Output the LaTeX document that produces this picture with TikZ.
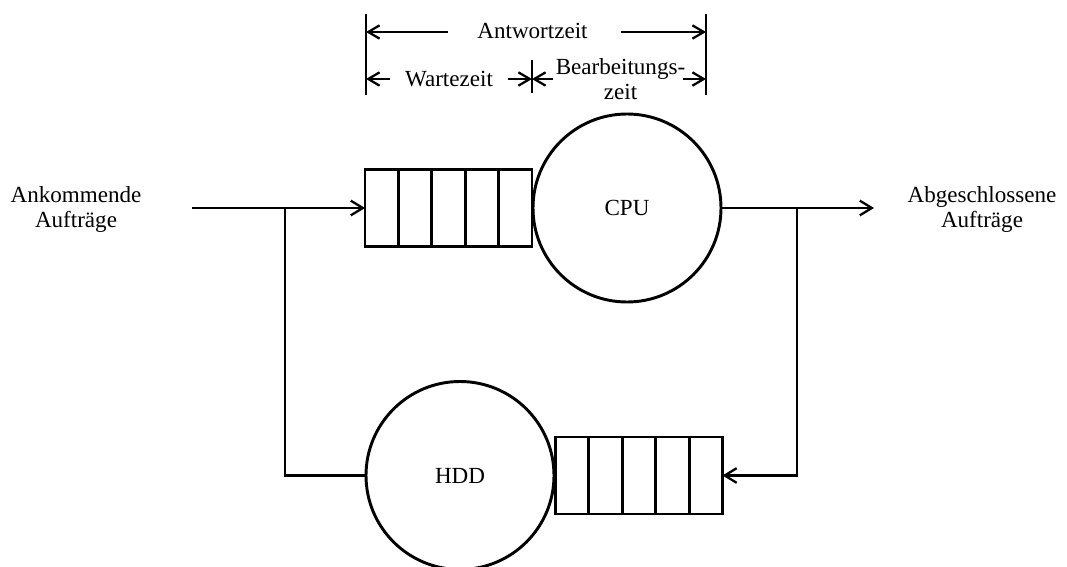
\documentclass[tikz,border=0pt]{standalone}
\usepackage{fontspec}
\setmainfont{Liberation Serif}
\usetikzlibrary{arrows.meta,calc}
\begin{document}
\begin{tikzpicture}[x=0.75pt,y=-0.75pt,
  txt/.style={font=\fontsize{17.3}{18.6}\selectfont},
  conn/.style={line width=1.7pt},
  arr/.style={conn,-{Straight Barb[length=9pt,width=11pt,line width=1.7pt]}},
  dimarr/.style={line width=1.7pt,-{Straight Barb[length=8.5pt,width=10pt,line width=1.7pt]}},
  bar/.style={line width=2pt},
  cell/.style={line width=2.2pt},
  queuebox/.style={draw,line width=2.2pt,minimum width=125.25pt,minimum height=57.75pt,inner sep=0pt,outer sep=0pt},
  server/.style={draw,circle,line width=2.2pt,minimum size=141pt,inner sep=0pt,outer sep=0pt,txt},
  lbl/.style={inner sep=0pt,align=center,txt}]
\useasboundingbox[fill=white] (0,0) rectangle (1067,567);

% --- queues and servers
\node[queuebox] (q1) at (448.5,208) {};
\foreach \i in {1,...,4}
  \draw[cell] ($(q1.north west)!\i/5!(q1.north east)$) -- ($(q1.south west)!\i/5!(q1.south east)$);
\node[server] (cpu) at (627,208) {CPU};

\node[queuebox] (q2) at (639,475.5) {};
\foreach \i in {1,...,4}
  \draw[cell] ($(q2.north west)!\i/5!(q2.north east)$) -- ($(q2.south west)!\i/5!(q2.south east)$);
\node[server] (hdd) at (460,475.5) {HDD};

% --- side labels
\node[lbl] (in) at (76,209.5) {Ankommende\\Aufträge};
\node[lbl] (out) at (982,209.5) {Abgeschlossene\\Aufträge};

% --- connectors
\coordinate (instart) at (192,208);
\coordinate (jl) at (285,208);
\coordinate (jr) at (797,208);
\coordinate (outend) at (874,208);
\draw[arr] (instart) -- (q1.west);
\draw[conn] (jl) |- (hdd.west);
\draw[arr] (cpu.east) -- (outend);
\draw[arr] (jr) |- (q2.east);

% --- dimension bars
\coordinate (lt) at (366,14);  \coordinate (lb) at (366,95);
\coordinate (rt) at (706,14);  \coordinate (rb) at (706,95);
\coordinate (mt) at (532,60);  \coordinate (mb) at (532,93);
\draw[bar] (lt) -- (lb);
\draw[bar] (rt) -- (rb);
\draw[bar] (mt) -- (mb);

% Antwortzeit
\node[lbl] (ant) at (532.5,31) {Antwortzeit};
\coordinate (a1) at (448,32);
\coordinate (a2) at (621,32);
\draw[dimarr] (a1) -- (a1 -| lt);
\draw[dimarr] (a2) -- (a2 -| rt);

% Wartezeit
\node[lbl] (wz) at (449,79) {Wartezeit};
\coordinate (w1) at (390,79);
\coordinate (w2) at (508,79);
\draw[dimarr] (w1) -- (w1 -| lt);
\draw[dimarr] (w2) -- (w2 -| mt);

% Bearbeitungszeit
\node[lbl] (bz) at (620.5,79.5) {Bearbeitungs-\\zeit};
\coordinate (b1) at (553,79);
\coordinate (b2) at (683,79);
\draw[dimarr] (b1) -- (b1 -| mt);
\draw[dimarr] (b2) -- (b2 -| rt);
\end{tikzpicture}
\end{document}
